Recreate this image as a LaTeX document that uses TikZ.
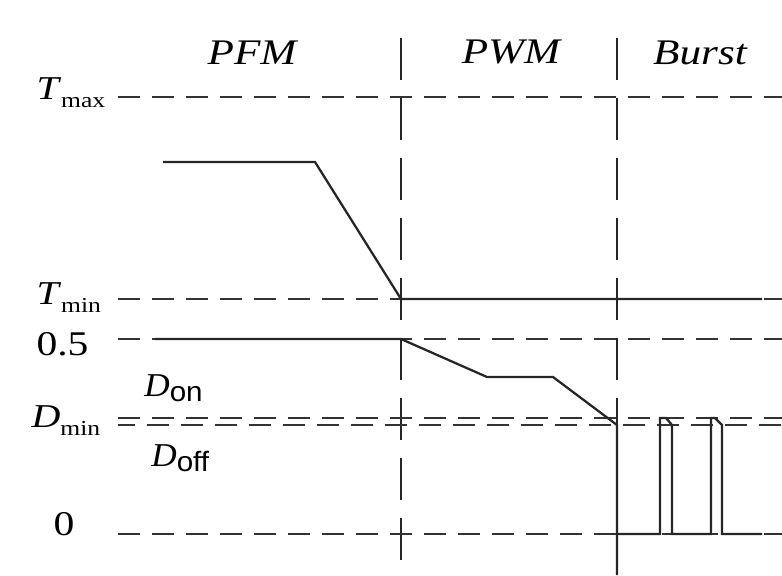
\documentclass[tikz,border=0pt]{standalone}
\usepackage{fontspec}
\setmainfont{Liberation Serif}
\setsansfont{Liberation Sans}
% T_max, D_min style labels and D_on / D_off labels
\newcommand{\sublbl}[2]{\textit{#1}\raisebox{-6pt}{\fontsize{16}{16}\selectfont #2}}
\newcommand{\dlbl}[2]{\textit{#1}\raisebox{-4pt}{\fontsize{21}{21}\selectfont\sffamily #2}}

\begin{document}
\begin{tikzpicture}[x=0.75pt,y=0.75pt,yscale=-1,xscale=1,
  hguide/.style={draw=black!80,line width=2.1pt,dash pattern=on 16.5pt off 9pt},
  vguide/.style={draw=black!85,line width=1.9pt,dash pattern=on 31.5pt off 13.5pt},
  signal/.style={draw=black!85,line width=1.7pt,line join=miter},
  axlbl/.style={inner sep=0.75pt,font=\fontsize{25}{28}\selectfont,xscale=1.2},
  modelbl/.style={inner sep=0.75pt,font=\fontsize{27}{30}\selectfont\itshape,xscale=1.2}]
\useasboundingbox (0,0) rectangle (782,575);
% mode borders
\draw[vguide] (401,38) -- (401,575);
\draw[vguide] (617,38) -- (617,425);
% levels
\draw[hguide] (118,97) -- (782,97);
\draw[hguide] (118,299) -- (782,299);
\draw[hguide] (118,339) -- (782,339);
\draw[hguide] (118,418) -- (782,418);
\draw[hguide,dash phase=4pt] (118,425) -- (782,425);
\draw[hguide] (118,534) -- (782,534);
% period
\draw[signal] (163,162) -- (315,162) -- (401,299) -- (762,299);
% duty
\draw[signal] (155,339) -- (401,339) -- (487,377) -- (553,377) -- (617,425) -- (617,575);
\draw[signal] (617,534) -- (660,534) -- (660,418) -- (666,418) -- (672,425) -- (672,534)
  -- (711,534) -- (711,418) -- (715,418) -- (722,425) -- (722,534) -- (762,534);
% labels
\draw (252,64) node (pfm) [anchor=base] [modelbl] {PFM};
\draw (511,63) node (pwm) [anchor=base] [modelbl] {PWM};
\draw (700,64) node (burst) [anchor=base] [modelbl] {Burst};
\draw (35,99) node (tmax) [anchor=base west] [axlbl] {\sublbl{T}{max}};
\draw (35,304) node (tmin) [anchor=base west] [axlbl] {\sublbl{T}{min}};
\draw (35,355) node (half) [anchor=base west] [axlbl,font=\fontsize{26}{28}\selectfont] {0.5};
\draw (30,427) node (dmin) [anchor=base west] [axlbl] {\sublbl{D}{min}};
\draw (143,396) node (don) [anchor=base west] [axlbl,xscale=0.88] {\dlbl{D}{on}};
\draw (150,466) node (doff) [anchor=base west] [axlbl,xscale=0.88] {\dlbl{D}{off}};
\draw (52,535) node (zero) [anchor=base west] [axlbl,font=\fontsize{26}{28}\selectfont] {0};
\end{tikzpicture}
\end{document}
